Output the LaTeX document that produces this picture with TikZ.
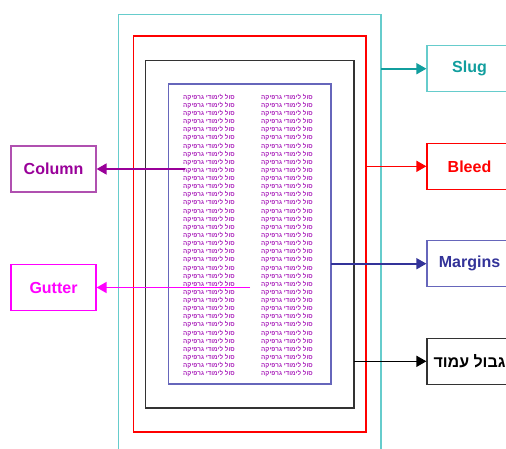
\documentclass[tikz,border=0pt]{standalone}
\usepackage{fontspec}
\setmainfont{Liberation Sans}
\newfontfamily\hebfont[Script=Hebrew]{Liberation Sans}
\TeXXeTstate=1
\usetikzlibrary{arrows.meta}
\definecolor{slugline}{HTML}{66CCCC}
\definecolor{slugdark}{HTML}{119E9E}
\definecolor{bleedc}{HTML}{FF0000}
\definecolor{trimc}{HTML}{333333}
\definecolor{marginline}{HTML}{6666BB}
\definecolor{margindark}{HTML}{333399}
\definecolor{colc}{HTML}{990099}
\definecolor{colline}{HTML}{B050B0}
\definecolor{gutc}{HTML}{FF00FF}
\definecolor{hebc}{HTML}{AA22BB}
\begin{document}
\begin{tikzpicture}[x=1pt,y=-1pt,
  lbl/.style={draw, line width=1.2pt, minimum width=85pt, minimum height=46pt, inner sep=0pt,
    font=\bfseries\fontsize{16}{16}\selectfont},
  arr/.style={line width=1.6pt, -{Triangle[length=10pt,width=11pt]}},
  heb/.style={inner sep=0pt, text=hebc, font=\hebfont\bfseries\fontsize{6.3}{6.3}\selectfont}]
\clip (0,0) rectangle (506,448);
\fill[white] (0,0) rectangle (506,448);
% page frames
\draw[slugline, line width=1.9pt] (118.5,470) -- (118.5,14.5) -- (381,14.5) -- (381,470);
\draw[bleedc, line width=1.4pt] (133.5,36) rectangle (366,432);
\draw[trimc, line width=1.8pt] (145.5,60.5) rectangle (354,408);
\draw[marginline, line width=1.4pt] (168.5,84) rectangle (331,384);
% text columns
\foreach \i in {0,...,34}{
  \node[heb] (l\i) at (209,97.3+8.13*\i) {\beginR סול לימודי גרפיקה\endR};
  \node[heb] (r\i) at (287,97.3+8.13*\i) {\beginR סול לימודי גרפיקה\endR};
}
% label boxes
\node[lbl, draw=slugline, text=slugdark] (slug) at (469.5,68.7) {Slug};
\node[lbl, draw=bleedc, text=bleedc] (bleed) at (469.5,166.3) {Bleed};
\node[lbl, draw=marginline, text=margindark] (margins) at (469.5,263.7) {Margins};
\node[lbl, draw=trimc, text=black] (trim) at (469.5,361.3) {\hebfont\beginR גבול עמוד\endR};
\node[lbl, draw=colline, text=colc] (column) at (53.5,169) {Column};
\node[lbl, draw=gutc, text=gutc] (gutter) at (53.5,287.5) {Gutter};
% arrow start points
\coordinate (slugpt) at (381,68.7);
\coordinate (bleedpt) at (366,166.3);
\coordinate (marginpt) at (331,263.7);
\coordinate (trimpt) at (354,361.3);
\coordinate (colpt) at (185,169);
\coordinate (gutpt) at (250,287.5);
% arrows
\draw[arr, slugdark] (slugpt) -- (slug.west);
\draw[arr, bleedc] (bleedpt) -- (bleed.west);
\draw[arr, margindark] (marginpt) -- (margins.west);
\draw[arr, black] (trimpt) -- (trim.west);
\draw[arr, colc] (colpt) -- (column.east);
\draw[arr, gutc] (gutpt) -- (gutter.east);
\end{tikzpicture}
\end{document}
